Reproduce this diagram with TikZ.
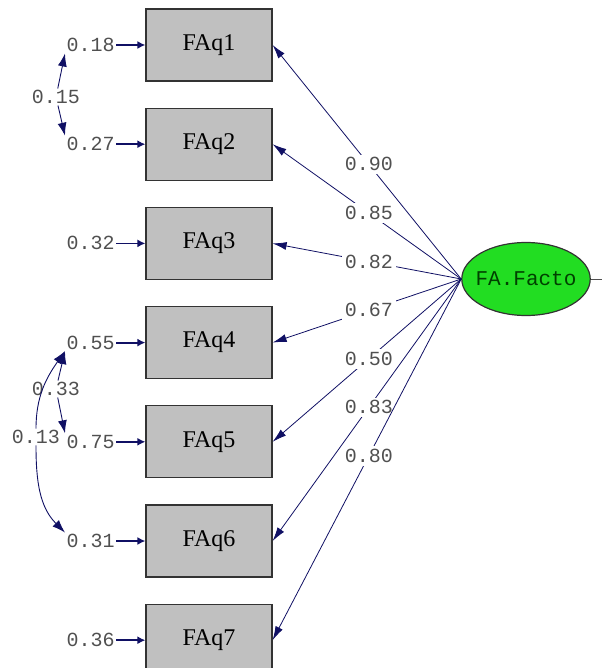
\documentclass[tikz,border=0pt]{standalone}
\usepackage{fontspec}
\setmainfont{Liberation Serif}
\newfontfamily\monofont{Liberation Mono}
\usetikzlibrary{positioning,arrows.meta,shapes.geometric}
\definecolor{boxgray}{RGB}{192,192,192}
\definecolor{lvgreen}{RGB}{34,221,34}
\definecolor{pathnavy}{RGB}{16,16,100}
\definecolor{numgray}{RGB}{80,80,80}

\begin{document}
\begin{tikzpicture}[x=1pt, y=1pt,
            obs/.style = {draw=black!80, line width=1.2pt, fill=boxgray,
                minimum width=126pt, minimum height=72pt, font=\fontsize{24}{28}\selectfont},
            lat/.style = {ellipse, draw=black!80, line width=1.2pt, fill=lvgreen,
                inner xsep=-5pt, inner ysep=0pt, minimum width=128pt, minimum height=73pt,
                font=\monofont\fontsize{21}{24}\selectfont, text=black!75!green},
            num/.style = {inner sep=1.5pt, text=numgray, font=\monofont\fontsize{20}{22}\selectfont},
            load/.style = {draw=pathnavy, line width=0.8pt, -{Latex[length=14pt,width=8pt]}},
            err/.style = {draw=pathnavy, line width=1.8pt, -{Latex[length=8pt,width=8pt]}},
            cov/.style = {draw=pathnavy, line width=0.9pt, -{Latex[length=13pt,width=9pt]}}]
            \useasboundingbox (0,0) rectangle (602,-668);
            \node[obs] (q1) at (209,-45) {FAq1};
            \node[obs, below=26pt of q1] (q2) {FAq2};
            \node[obs, below=26pt of q2] (q3) {FAq3};
            \node[obs, below=26pt of q3] (q4) {FAq4};
            \node[obs, below=26pt of q4] (q5) {FAq5};
            \node[obs, below=26pt of q5] (q6) {FAq6};
            \node[obs, below=26pt of q6] (q7) {FAq7};
            \node[lat] (fa) at (526,-279) {FA.Facto};
            \coordinate (stub) at (602,-279);
            \draw[draw=numgray, line width=0.6pt] (fa) -- (stub);
            \foreach \i/\v in {1/0.18, 2/0.27, 3/0.32, 4/0.55, 5/0.75, 6/0.31, 7/0.36}
                \node[num, left=29pt of q\i] (e\i) {\v};
            \foreach \i in {1,...,7}
                \draw[err] (e\i) -- (q\i);
            \foreach \i/\v in {1/0.90, 2/0.85, 3/0.82, 4/0.67, 5/0.50, 6/0.83, 7/0.80}
                \draw[load] (fa.west) -- node[num, fill=white, inner sep=3pt, pos=0.49] (l\i) {\v} (q\i.east);
            \node[num] (c1) at (56,-97) {0.15};
            \node[num] (c2) at (56,-389) {0.33};
            \node[num] (c3) at (36,-437) {0.13};
            \draw[cov] (c1) -- (e1.south west);
            \draw[cov] (c1) -- (e2.north west);
            \draw[cov] (c2) -- (e4.south west);
            \draw[cov] (c2) -- (e5.north west);
            \draw[cov] (c3.north) to[out=90, in=235] (e4.south west);
            \draw[cov] (c3.south) to[out=-90, in=135] (e6.north west);
        \end{tikzpicture}
\end{document}
